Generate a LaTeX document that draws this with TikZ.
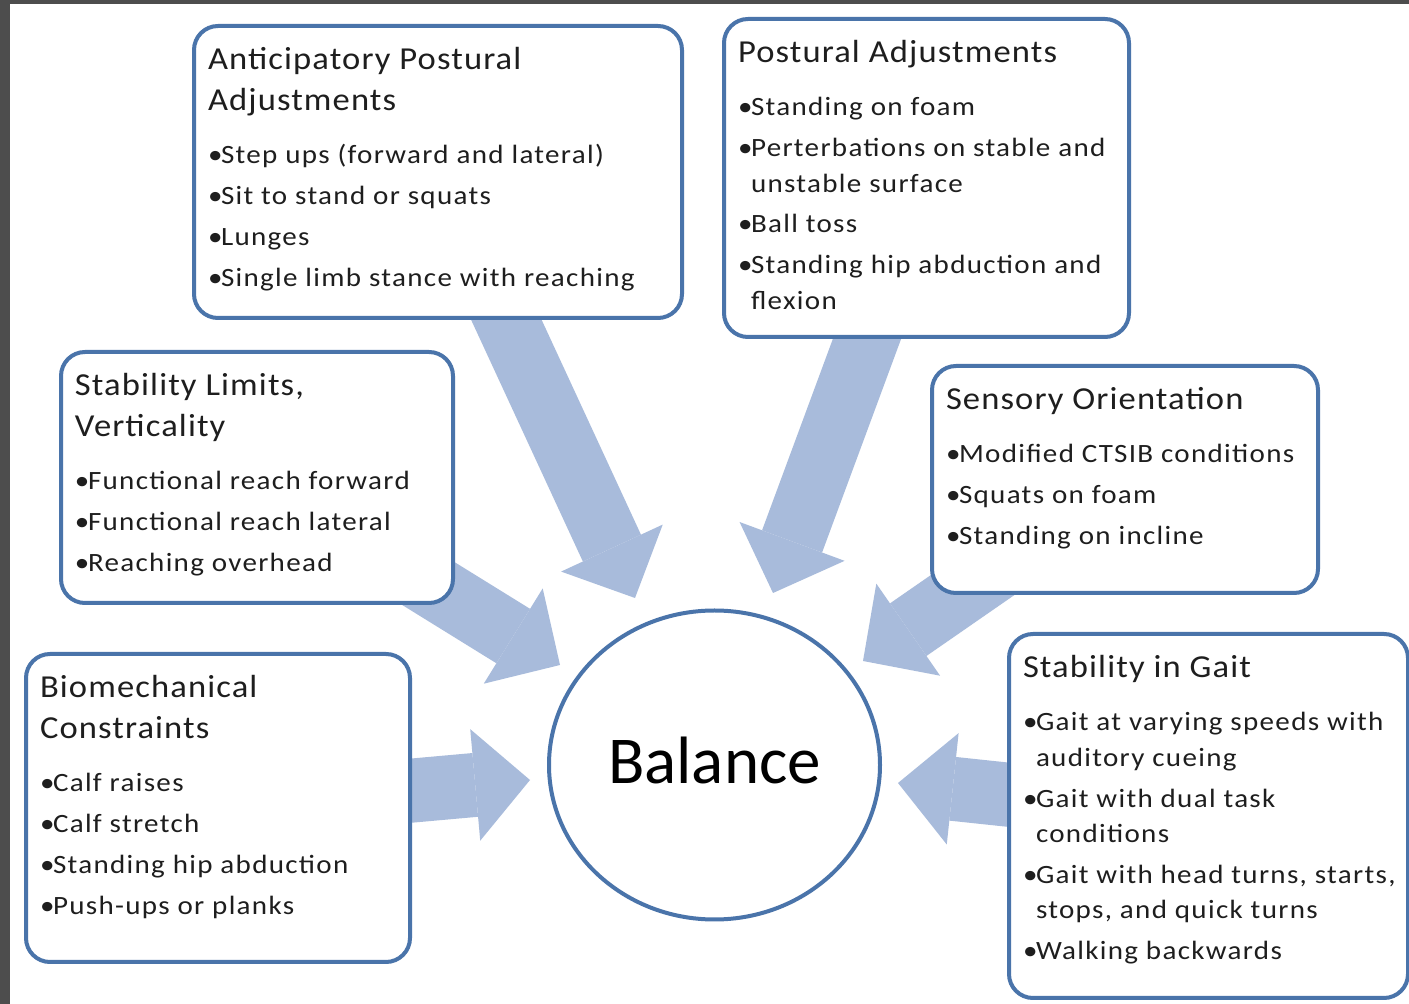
\documentclass[tikz,border=0pt]{standalone}
\usepackage{fontspec}
\setmainfont{Carlito}
\newfontfamily\headfont{Carlito}[FakeStretch=1.08, LetterSpace=3.5]
\newfontfamily\itemfont{Carlito}[FakeStretch=1.1, LetterSpace=5]
\usepackage{tikz}
\usepackage{xcolor}
\usetikzlibrary{arrows.meta,shapes.geometric,backgrounds}
\definecolor{edgeblue}{HTML}{4A74AA}
\definecolor{flowblue}{HTML}{A8BBDB}
\definecolor{framegray}{HTML}{4D4D4D}
\definecolor{textgray}{HTML}{1E1E1E}
\tikzset{
    topic-box/.style = {draw=edgeblue, fill=white, line width=2pt, rectangle, rounded corners=12pt, inner sep=0pt, anchor=north west, text=textgray},
    balance-node/.style = {draw=edgeblue, fill=white, line width=2pt, ellipse, minimum width=165.5pt, minimum height=154.5pt, inner sep=0pt, text depth=5pt, font=\fontsize{33.5pt}{40pt}\selectfont},
    flow-arrow/.style = {draw=flowblue, line width=32pt, -{Triangle[width=56pt, length=27.5pt, line width=0pt]}},
}
\newcommand{\topichead}[1]{\rightskip=0pt plus 1fil\leftskip=7pt\vspace*{10pt}{\headfont\fontsize{16pt}{20.5pt}\selectfont\rule{0pt}{12pt}#1\par}\setlength{\parskip}{2.6pt}\vspace{6.15pt}\itemfont\fontsize{13.2pt}{17.75pt}\selectfont}
\newcommand{\topicitem}[1]{\par\hangindent=6.5pt\hangafter=1\noindent\makebox[6.5pt][l]{•}#1}

\begin{document}
\begin{tikzpicture}[x=0.5pt, y=-0.5pt]
\useasboundingbox (0,0) rectangle (1409,1004);
\node [topic-box] (apa) at (192,24) {\begin{minipage}[t][146pt][t]{244pt}
    \topichead{Anticipatory Postural\\Adjustments}
    \topicitem{Step ups (forward and lateral)}
    \topicitem{Sit to stand or squats}
    \topicitem{Lunges}
    \topicitem{Single limb stance with reaching}
\end{minipage}};
\node [topic-box] (pa) at (722,17) {\begin{minipage}[t][159pt][t]{202.5pt}
    \topichead{Postural Adjustments}
    \topicitem{Standing on foam}
    \topicitem{Perterbations on stable and\\unstable surface}
    \topicitem{Ball toss}
    \topicitem{Standing hip abduction and\\flexion}
\end{minipage}};
\node [topic-box] (slv) at (59,350) {\begin{minipage}[t][125.5pt][t]{196pt}
    \topichead{Stability Limits,\\Verticality}
    \topicitem{Functional reach forward}
    \topicitem{Functional reach lateral}
    \topicitem{Reaching overhead}
\end{minipage}};
\node [topic-box] (so) at (930,364) {\begin{minipage}[t][113.5pt][t]{193pt}
    \topichead{Sensory Orientation}
    \topicitem{Modified CTSIB conditions}
    \topicitem{Squats on foam}
    \topicitem{Standing on incline}
\end{minipage}};
\node [topic-box] (bc) at (24,652) {\begin{minipage}[t][154pt][t]{192pt}
    \topichead{Biomechanical\\Constraints}
    \topicitem{Calf raises}
    \topicitem{Calf stretch}
    \topicitem{Standing hip abduction}
    \topicitem{Push-ups or planks}
\end{minipage}};
\node [topic-box] (sig) at (1007,632) {\begin{minipage}[t][182pt][t]{199.5pt}
    \topichead{Stability in Gait}
    \topicitem{Gait at varying speeds with\\auditory cueing}
    \topicitem{Gait with dual task\\conditions}
    \topicitem{Gait with head turns, starts,\\stops, and quick turns}
    \topicitem{Walking backwards}
\end{minipage}};
\node [balance-node] (bal) at (714.5,765) {Balance};
\coordinate (in-apa) at (635,598);
\coordinate (in-pa) at (773,593);
\coordinate (in-slv) at (560,665);
\coordinate (in-so) at (863,661);
\coordinate (in-bc) at (530,780);
\coordinate (in-sig) at (898,783);
\begin{scope}[on background layer]
\fill [framegray] (0,0) rectangle (1409,1004);
\fill [white] (10,4) rectangle (1409,1004);
\draw [flow-arrow] (apa.center) -- (in-apa);
\draw [flow-arrow] (pa.center) -- (in-pa);
\draw [flow-arrow] (slv.center) -- (in-slv);
\draw [flow-arrow] (so.center) -- (in-so);
\draw [flow-arrow] (bc.center) -- (in-bc);
\draw [flow-arrow] (sig.center) -- (in-sig);
\end{scope}
\end{tikzpicture}
\end{document}
